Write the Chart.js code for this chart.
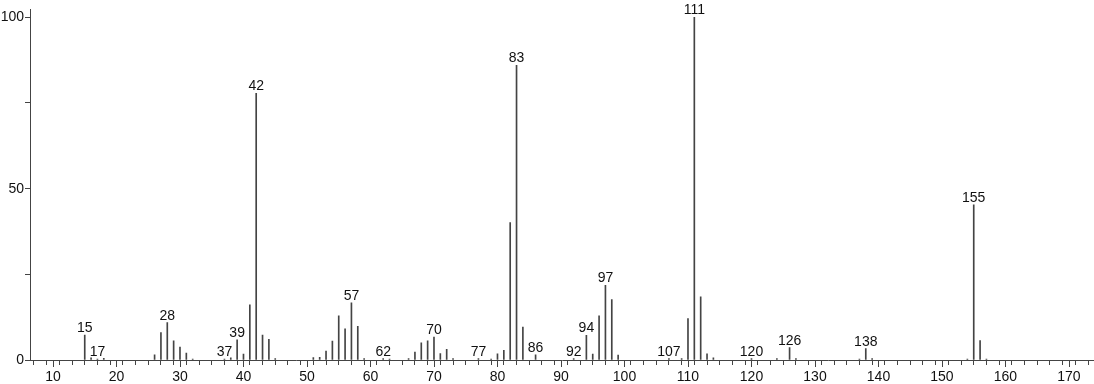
<!DOCTYPE html>
<html>
<head>
<meta charset="utf-8">
<script src="https://cdn.jsdelivr.net/npm/chart.js@4"></script>
<style>
html,body{margin:0;padding:0;background:#fff;}
#wrap{width:1094px;height:384px;position:relative;}
</style>
</head>
<body>
<div id="wrap"><canvas id="c" width="1094" height="384"></canvas></div>
<script>
// m/z values
const mz = [15,16,17,18,26,27,28,29,30,31,32,37,38,39,40,41,42,43,44,45,51,52,53,54,55,56,57,58,59,62,63,66,67,68,69,70,71,72,73,77,79,80,81,82,83,84,86,92,94,95,96,97,98,99,107,109,110,111,112,113,114,120,124,126,127,137,138,139,154,155,156,157];
// relative intensities (%)
const intensity = [7.3,0.6,0.3,0.5,1.5,8.0,10.9,5.6,3.8,2.0,0.3,0.3,0.6,5.9,1.7,16.1,77.8,7.3,6.0,0.4,0.7,0.8,2.6,5.5,12.9,9.1,16.7,9.8,0.4,0.4,0.3,0.4,2.3,5.0,5.6,6.7,1.9,3.1,0.4,0.4,0.3,1.8,2.8,40.1,86.0,9.6,1.5,0.4,7.2,1.7,12.9,21.8,17.6,1.4,0.4,0.4,12.1,100,18.4,1.8,0.6,0.4,0.4,3.6,0.4,0.3,3.3,0.4,0.3,45.3,5.7,0.3];
// peaks that carry a label
const labeledPeaks = [15,17,28,37,39,42,57,62,70,77,83,86,92,94,97,107,111,120,126,138,155];
// axis ticks
const xMajorTicks = [10,20,30,40,50,60,70,80,90,100,110,120,130,140,150,160,170];
const yTickLabels = [0,50,100];

const points = mz.map((m,i)=>({x:m,y:intensity[i]}));
const FONT = '"Liberation Sans", Arial, sans-serif';

const peakLabelPlugin = {
  id:'peakLabels',
  afterDatasetsDraw(chart){
    const ctx = chart.ctx, xs = chart.scales.x, ys = chart.scales.y;
    ctx.save();
    ctx.font = '14px ' + FONT;
    ctx.fillStyle = '#111';
    ctx.textAlign = 'center';
    ctx.textBaseline = 'alphabetic';
    labeledPeaks.forEach(m=>{
      const i = mz.indexOf(m);
      if(i<0) return;
      const px = xs.getPixelForValue(m);
      const py = ys.getPixelForValue(intensity[i]);
      ctx.fillText(String(m), px, py - 3);
    });
    // longer major ticks on the x axis
    ctx.strokeStyle = '#444';
    ctx.lineWidth = 1;
    xMajorTicks.forEach(v=>{
      const px = Math.round(xs.getPixelForValue(v)) + 0.5;
      ctx.beginPath();
      ctx.moveTo(px, xs.top);
      ctx.lineTo(px, xs.top + 7);
      ctx.stroke();
    });
    ctx.restore();
  }
};

new Chart(document.getElementById('c'), {
  type:'bar',
  data:{datasets:[{data:points, backgroundColor:'#444', borderWidth:0, barThickness:1}]},
  options:{
    responsive:false,
    animation:false,
    devicePixelRatio:1,
    layout:{padding:0},
    plugins:{legend:{display:false}, tooltip:{enabled:false}},
    scales:{
      x:{
        type:'linear', min:6.38, max:173.94, offset:false,
        afterBuildTicks(s){ const t=[]; for(let v=8; v<=172; v+=2) t.push({value:v}); s.ticks=t; },
        afterFit(s){ s.height = 24; },
        grid:{display:true, drawOnChartArea:false, drawTicks:true, tickLength:5, color:'#444'},
        border:{display:true, color:'#444', width:1},
        ticks:{autoSkip:false, maxRotation:0, padding:4, color:'#111', font:{family:FONT, size:14},
          callback:(v)=> xMajorTicks.includes(v) ? String(v) : ''}
      },
      y:{
        type:'linear', min:0, max:102.3,
        afterBuildTicks(s){ s.ticks=[0,25,50,75,100].map(v=>({value:v})); },
        afterFit(s){ s.width = 30; },
        grid:{display:true, drawOnChartArea:false, drawTicks:true, tickLength:5, color:'#444'},
        border:{display:true, color:'#444', width:1},
        ticks:{autoSkip:false, padding:1, color:'#111', font:{family:FONT, size:14},
          callback:(v)=> yTickLabels.includes(v) ? String(v) : ''}
      }
    }
  },
  plugins:[peakLabelPlugin]
});
</script>
</body>
</html>
